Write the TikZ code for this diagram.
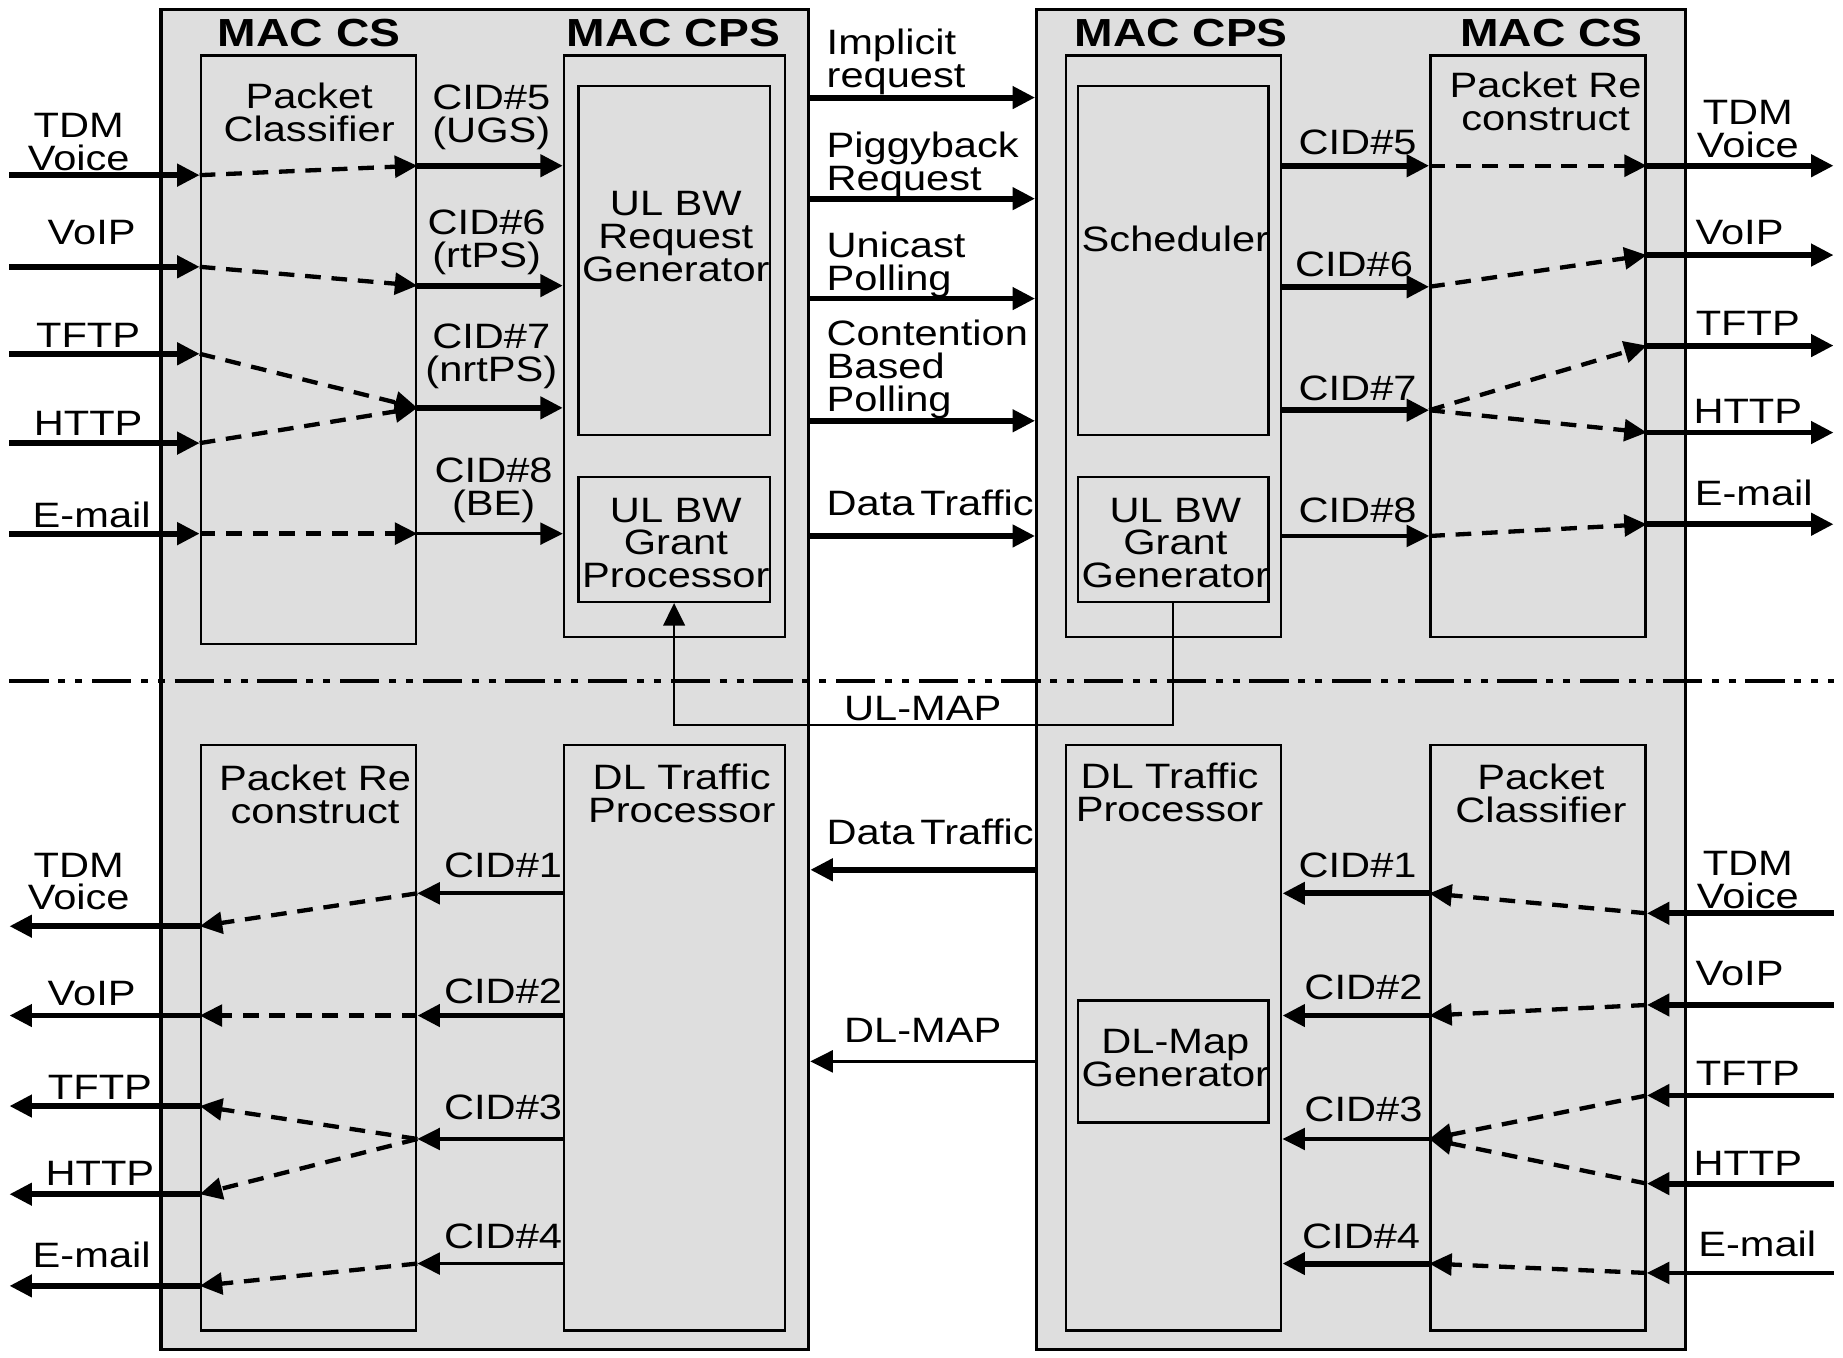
\documentclass[tikz,border=0pt]{standalone}
\usepackage{fontspec}
\usepackage{tikz}
\usetikzlibrary{arrows.meta,fit,positioning}
\newfontfamily\diafont[FakeStretch=1.18]{Liberation Sans}
\definecolor{boxgray}{RGB}{222,222,222}
\tikzset{
  stbox/.style={draw=black, fill=boxgray, line width=1.6pt, inner sep=0pt},
  blk/.style  ={draw=black, fill=boxgray, line width=1.3pt, inner sep=0pt},
  hdr/.style  ={font=\diafont\fontsize{20}{20}\selectfont\bfseries, inner sep=0pt},
  lbl/.style  ={font=\diafont\fontsize{18}{16.8}\selectfont, align=center, inner sep=0pt},
  lblL/.style ={lbl, align=left, anchor=west},
  arrfat/.style ={-{Triangle[length=11.5pt,width=11pt]}, line width=3pt},
  arrmid/.style ={-{Triangle[length=11.5pt,width=11pt]}, line width=1.9pt},
  arrdash/.style={-{Triangle[length=11.5pt,width=11pt]}, line width=2.2pt,
                  dash pattern=on 8pt off 5.5pt},
  mapline/.style={-{Triangle[length=11.5pt,width=11pt]}, line width=1.2pt},
  layerline/.style={line width=2pt,
                  dash pattern=on 20pt off 5pt on 3.6pt off 5pt on 3.6pt off 5pt},
}

\begin{document}
\begin{tikzpicture}[x=0.6pt, y=-0.6pt]
  \useasboundingbox[fill=white] (0,0) rectangle (1568,1155);
  % stations
  \node[stbox, fit={(137,8) (688,1148)}]  (ss) {};
  \node[stbox, fit={(882,8) (1434,1148)}] (bs) {};
  \coordinate (cutL) at (8,579); \coordinate (cutR) at (1560,579);
  \draw[layerline] (cutL) -- (cutR);
  \node[hdr] (ssCS)  at (263,28)  {MAC CS};
  \node[hdr] (ssCPS) at (573,28)  {MAC CPS};
  \node[hdr] (bsCPS) at (1005,28) {MAC CPS};
  \node[hdr] (bsCS)  at (1320,28) {MAC CS};
  % blocks
  \node[blk, fit={(171,47) (354,548)}]    (ssCls)   {};
  \node[blk, fit={(480,47) (668,542)}]    (ssUp)    {};
  \node[blk, fit={(492,73) (655,370)}]    (ssReq)   {};
  \node[blk, fit={(492,406) (655,512)}]   (ssGrant) {};
  \node[blk, fit={(907,47) (1090,542)}]   (bsUp)    {};
  \node[blk, fit={(917,73) (1079,370)}]   (bsSched) {};
  \node[blk, fit={(917,406) (1079,512)}]  (bsGrant) {};
  \node[blk, fit={(1217,47) (1400,542)}]  (bsRec)   {};
  \node[blk, fit={(171,634) (354,1132)}]  (ssRec)   {};
  \node[blk, fit={(480,634) (668,1132)}]  (ssDown)  {};
  \node[blk, fit={(907,634) (1090,1132)}] (bsDown)  {};
  \node[blk, fit={(917,851) (1079,955)}]  (bsMap)   {};
  \node[blk, fit={(1217,634) (1400,1132)}] (bsCls)  {};
  \node[lbl] (tssCls)   at (263,96)   {Packet\\Classifier};
  \node[lbl] (tssReq)   at (575,201)  {UL BW\\Request\\Generator};
  \node[lbl] (tssGrant) at (575,462)  {UL BW\\Grant\\Processor};
  \node[lbl] (tbsSched) at (1000,203) {Scheduler};
  \node[lbl] (tbsGrant) at (1000,462) {UL BW\\Grant\\Generator};
  \node[lbl] (tbsRec)   at (1315,86)  {Packet Re\\construct};
  \node[lbl] (tssRec)   at (268,676)  {Packet Re\\construct};
  \node[lbl] (tssDown)  at (580,675)  {DL Traffic\\Processor};
  \node[lbl] (tbsDown)  at (995,674)  {DL Traffic\\Processor};
  \node[lbl] (tbsMap)   at (1000,900) {DL-Map\\Generator};
  \node[lbl] (tbsCls)   at (1311,675) {Packet\\Classifier};

  % uplink, SS side
  \foreach \y [count=\n] in {149,227,301,377,454}
    \coordinate (sin\n) at (8,\y);
  \foreach \y [count=\n from 5] in {141,243,347,454}
    \coordinate (ucid\n) at (417,\y);
  \foreach \n in {1,...,5}
    \draw[arrfat] (sin\n) -- (sin\n -| ssCls.west);
  \foreach \a/\b in {1/5,2/6,3/7,4/7,5/8}
    \draw[arrdash] (sin\a -| ssCls.west) -- (ucid\b -| ssCls.east);
  \foreach \n/\s in {5/arrfat,6/arrfat,7/arrfat,8/arrmid}
    \draw[\s] (ucid\n -| ssCls.east) -- (ucid\n -| ssUp.west);
  \foreach \x/\y/\t [count=\n] in {67/121/{TDM\\Voice},78/198/VoIP,75/285/TFTP,75/360/HTTP,78/438/E-mail}
    \node[lbl] (tsin\n) at (\x,\y) {\t};
  \foreach \x/\y/\t [count=\n from 5] in {418/100/{CID\#5\\(UGS)},414/206/{CID\#6\\(rtPS)},418/303/{CID\#7\\(nrtPS)},420/417/{CID\#8\\(BE)}}
    \node[lbl] (tucid\n) at (\x,\y) {\t};

  % uplink messages
  \foreach \y/\c/\t [count=\n] in {83/53/{Implicit\\request},169/140/{Piggyback\\Request},254/225/{Unicast\\Polling},358/314/{Contention\\Based\\Polling},456/428/{Data\,Traffic}} {
    \coordinate (msg\n) at (785,\y);
    \draw[arrfat] (msg\n -| ss.east) -- (msg\n -| bs.west);
    \node[lblL] (tmsg\n) at (703,\c) {\t};
  }
  \coordinate (mapY) at (785,617);
  \draw[mapline] (bsGrant.south) |- (mapY) -| (ssGrant.south);
  \node[lbl] (tulmap) at (785,603) {UL-MAP};

  % uplink, BS side
  \foreach \y [count=\n from 5] in {141,244,349,456}
    \coordinate (bcid\n) at (1155,\y);
  \foreach \y [count=\n] in {141,217,294,368,446}
    \coordinate (bout\n) at (1560,\y);
  \foreach \n/\s in {5/arrfat,6/arrfat,7/arrfat,8/arrmid}
    \draw[\s] (bcid\n -| bsUp.east) -- (bcid\n -| bsRec.west);
  \foreach \a/\b in {5/1,6/2,7/3,7/4,8/5}
    \draw[arrdash] (bcid\a -| bsRec.west) -- (bout\b -| bsRec.east);
  \foreach \n in {1,...,5}
    \draw[arrfat] (bout\n -| bsRec.east) -- (bout\n);
  \foreach \x/\y/\t [count=\n from 5] in {1155/121/CID\#5,1152/225/CID\#6,1155/330/CID\#7,1155/434/CID\#8}
    \node[lbl] (tbcid\n) at (\x,\y) {\t};
  \foreach \x/\y/\t [count=\n] in {1487/110/{TDM\\Voice},1480/198/VoIP,1487/275/TFTP,1487/350/HTTP,1492/419/E-mail}
    \node[lbl] (tbout\n) at (\x,\y) {\t};

  % downlink messages
  \coordinate (dlData) at (785,740);
  \coordinate (dlMap) at (785,903);
  \draw[arrfat] (dlData -| bs.west) -- (dlData -| ss.east);
  \draw[arrmid] (dlMap -| bs.west) -- (dlMap -| ss.east);
  \node[lblL] (tdlData) at (703,708) {Data\,Traffic};
  \node[lbl]  (tdlMap)  at (785,877) {DL-MAP};

  % downlink, BS side
  \foreach \y [count=\n] in {777,855,932,1007,1083}
    \coordinate (bin\n) at (1560,\y);
  \foreach \y [count=\n] in {760,864,969,1075}
    \coordinate (dcid\n) at (785,\y);
  \foreach \n/\s in {1/arrfat,2/arrfat,3/arrfat,4/arrfat,5/arrmid}
    \draw[\s] (bin\n) -- (bin\n -| bsCls.east);
  \foreach \a/\b in {1/1,2/2,3/3,4/3,5/4}
    \draw[arrdash] (bin\a -| bsCls.east) -- (dcid\b -| bsCls.west);
  \foreach \n/\s in {1/arrfat,2/arrfat,3/arrmid,4/arrfat}
    \draw[\s] (dcid\n -| bsCls.west) -- (dcid\n -| bsDown.east);
  \foreach \x/\y/\t [count=\n] in {1155/736/CID\#1,1160/840/CID\#2,1160/944/CID\#3,1158/1052/CID\#4}
    \node[lbl] (tbdcid\n) at (\x,\y) {\t};
  \foreach \x/\y/\t [count=\n] in {1487/749/{TDM\\Voice},1480/828/VoIP,1487/913/TFTP,1487/990/HTTP,1495/1058/E-mail}
    \node[lbl] (tbin\n) at (\x,\y) {\t};

  % downlink, SS side
  \foreach \y [count=\n] in {788,864,941,1016,1094}
    \coordinate (sout\n) at (8,\y);
  \foreach \n/\s in {1/arrmid,2/arrfat,3/arrmid,4/arrmid}
    \draw[\s] (dcid\n -| ssDown.west) -- (dcid\n -| ssRec.east);
  \foreach \a/\b in {1/1,2/2,3/3,3/4,4/5}
    \draw[arrdash] (dcid\a -| ssRec.east) -- (sout\b -| ssRec.west);
  \foreach \n in {1,...,5}
    \draw[arrfat] (sout\n -| ssRec.west) -- (sout\n);
  \foreach \x/\y/\t [count=\n] in {428/736/CID\#1,428/843/CID\#2,428/942/CID\#3,428/1052/CID\#4}
    \node[lbl] (tsdcid\n) at (\x,\y) {\t};
  \foreach \x/\y/\t [count=\n] in {67/750/{TDM\\Voice},78/845/VoIP,85/925/TFTP,85/998/HTTP,78/1068/E-mail}
    \node[lbl] (tsout\n) at (\x,\y) {\t};
\end{tikzpicture}
\end{document}
